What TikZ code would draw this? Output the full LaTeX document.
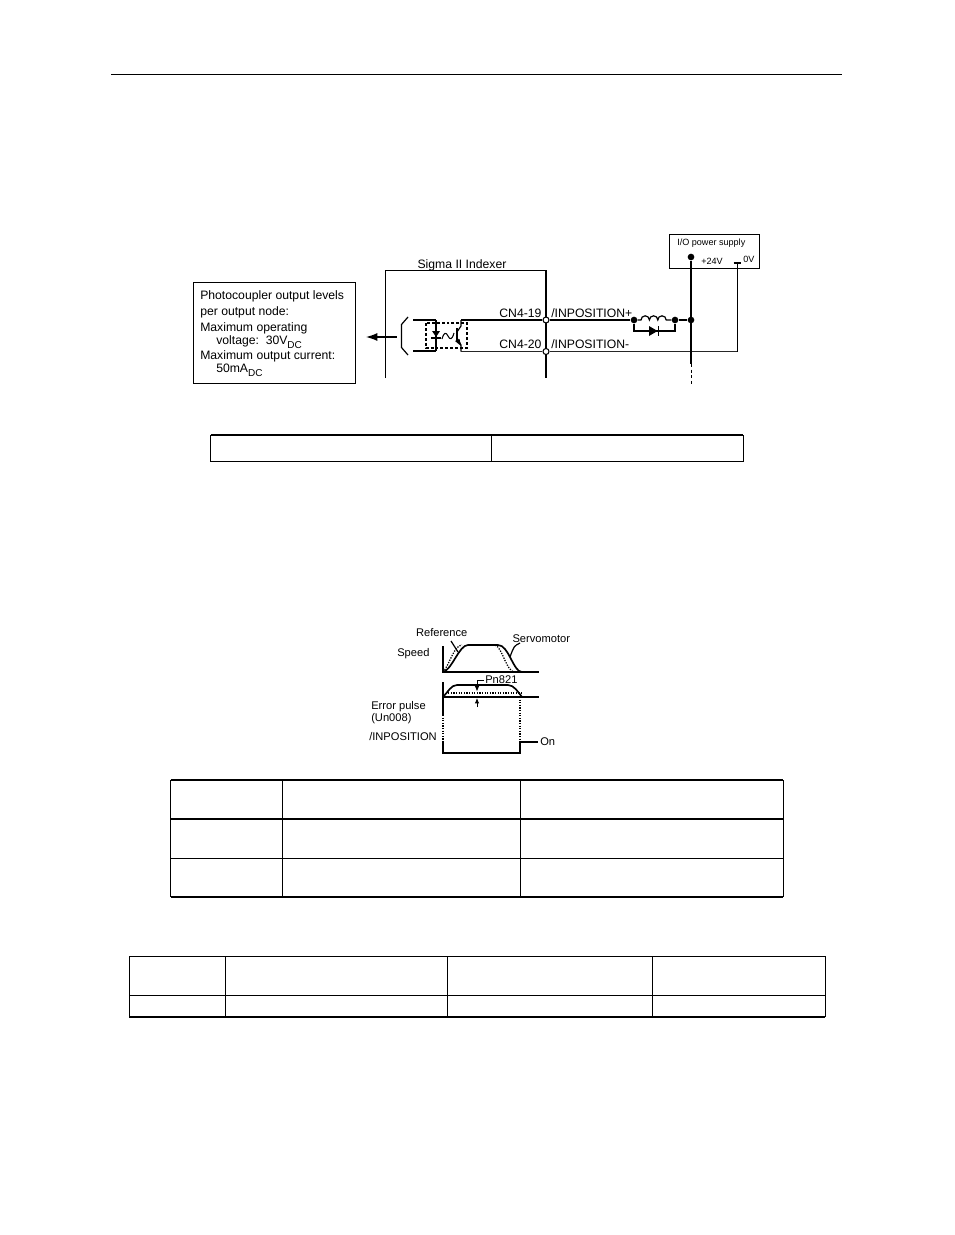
\documentclass[tikz,border=0pt]{standalone}
\usepackage{fontspec}
\setmainfont{Liberation Sans}
\usetikzlibrary{arrows,arrows.meta}

\def\dcsub{\raisebox{-3pt}{\fontsize{7.5}{7.5}\selectfont DC}}

\tikzset{
	wire/.style={line width=1.25pt},
	thinwire/.style={line width=0.9pt},
	dotwire/.style={line width=0.95pt,dash pattern=on 0.95pt off 1pt},
	tablerule/.style={line width=0.7pt},
	tableframe/.style={line width=1.3pt},
	lbl/.style={inner sep=0pt,anchor=base west,font=\fontsize{9.15}{9.15}\selectfont},
	plotlbl/.style={inner sep=0pt,anchor=base west,font=\fontsize{8.35}{8.35}\selectfont},
	smalllbl/.style={inner sep=0pt,anchor=base west,font=\fontsize{6.8}{6.8}\selectfont},
	dot/.style={circle,fill=black,inner sep=0pt,minimum size=5pt},
	tap/.style={circle,draw=black,fill=white,line width=0.8pt,inner sep=0pt,minimum size=4.5pt},
}

\begin{document}
\begin{tikzpicture}[>=latex,x=0.75pt,y=-0.75pt]

\useasboundingbox (0,0) rectangle (954,1235);

% header rule
\draw[line width=0.7pt] (111,74) -- (842,74);

% note box
\node[draw,thinwire,minimum width=121pt,minimum height=76pt,inner sep=0pt] (notebox) at (274.5,333) {};
\node[lbl] (noteA) at (200,299.7) {Photocoupler output levels};
\node[lbl] (noteB) at (200,315.2) {per output node:};
\node[lbl] (noteC) at (200,331.2) {Maximum operating};
\node[lbl] (noteD) at (216,344.2) {voltage:\ \ 30V\dcsub};
\node[lbl] (noteE) at (200,359.7) {Maximum output current:};
\node[lbl] (noteF) at (216,372.2) {50mA\dcsub};

% indexer frame
\coordinate (frameL) at (385.5,378);
\coordinate (frameTL) at (385.5,270.5);
\coordinate (frameTR) at (546,270.5);
\coordinate (frameR) at (546,378);
\draw[thinwire] (frameL) -- (frameTL) -- (frameTR) -- (frameR);
\node[lbl,anchor=base] (indexer) at (462,268) {Sigma II Indexer};

% arrow out of the indexer
\coordinate (arrowA) at (396.5,337);
\coordinate (arrowB) at (366,337);
\draw[-{Latex[length=8.5pt,width=6pt]},thinwire] (arrowA) -- (arrowB);

% bracket
\draw[thinwire] (408,317) -- (401.5,324.5) -- (401.5,347.5) -- (408,355);

% wires
\coordinate (upL) at (413,320);
\coordinate (upM) at (436,320);
\coordinate (loL) at (413,351);
\coordinate (loM) at (436,351);
\coordinate (upR) at (461,320);
\coordinate (loR) at (461,351.5);
\node[tap] (cnA) at (546,320) {};
\node[tap] (cnB) at (546,351.5) {};
\node[dot] (coilL) at (634,320) {};
\node[dot] (coilR) at (675,320) {};
\node[dot] (node24) at (691,320) {};
\draw[thinwire] (upL) -- (upM) (loL) -- (loM);
\draw[wire] (upR) -- (cnA) -- (coilL);
\draw[wire] (coilR) -- (node24);

% photocoupler
\draw[line width=0.8pt,dash pattern=on 2.2pt off 1.5pt] (426,323) rectangle (467,348);
\draw[thinwire] (436,320) -- (436,351);
\fill (432,331) -- (440,331) -- (436,337) -- cycle;
\draw[wire] (431,338) -- (441,338);
\draw[line width=0.8pt] (442,339) .. controls (444,332) and (446,332) .. (448,336)
	.. controls (450,340) and (452,340) .. (454,333);
\draw[wire] (457,328) -- (457,342);
\draw[thinwire] (461,320) -- (461,326) -- (457,332) (457,338) -- (461,345) -- (461,351.5);
\fill (461,346) -- (455,341) -- (459.5,339) -- cycle;

% coil and diode
\draw[thinwire] (coilL) -- (641,320) arc (180:360:4.2) arc (180:360:4.2) arc (180:360:4.2) -- (coilR);
\coordinate (diodeL) at (634,331);
\coordinate (diodeR) at (675,331);
\draw[wire] (coilL) -- (diodeL) -- (diodeR) -- (coilR);
\fill (649,326) -- (657.5,331) -- (649,336) -- cycle;
\draw[wire] (658.5,326) -- (658.5,336);

% power supply
\node[draw,thinwire,minimum width=68pt,minimum height=26pt,inner sep=0pt] (supply) at (714.5,251.5) {};
\node[smalllbl] (supplyname) at (677,245.5) {I/O power supply};
\node[dot] (plus) at (691,257) {};
\node[smalllbl] (plustxt) at (701,264) {+24V};
\node[smalllbl] (zerotxt) at (743,262.5) {0V};
\coordinate (zeroA) at (733.5,263);
\coordinate (zeroB) at (741,263);
\coordinate (zeroC) at (737.3,263);
\coordinate (zeroD) at (737.3,351.5);
\draw[thinwire] (zeroA) -- (zeroB);
\draw[thinwire] (zeroC) -- (zeroD);
\draw[wire,black!85] (loR) -- (cnB) -- (zeroD);
\coordinate (busEnd) at (691,364);
\coordinate (busTail) at (691,384);
\draw[thinwire] (plus) -- (busEnd);
\draw[line width=0.7pt,dash pattern=on 2.4pt off 1.8pt] (busEnd) -- (busTail);

% wire labels
\node[lbl,anchor=base east] (cnAtxt) at (541.7,317) {CN4-19};
\node[lbl,anchor=base east] (cnBtxt) at (541.7,348) {CN4-20};
\node[lbl] (posA) at (551,317) {/INPOSITION+};
\node[lbl] (posB) at (551,348) {/INPOSITION-};

% first table
\draw[tablerule] (210.5,435) rectangle (743,461);
\draw[tablerule] (491,435) -- (491,461);
\draw[tableframe] (210.5,435) -- (743,435);

% speed plot
\draw[thinwire] (443,646) -- (443,672) -- (539,672);
\draw[wire] (443,672) .. controls (452,670) and (459,645) .. (468,645) -- (498,645)
	.. controls (509,645) and (513,672) .. (522,672);
\draw[dotwire] (443,672) .. controls (449,666) and (454,645) .. (462,645)
	(495,645) .. controls (503,648) and (506,672) .. (515,672);
\coordinate (refA) at (451,641);
\coordinate (refB) at (458,652);
\coordinate (servoA) at (520,643);
\coordinate (servoB) at (510,657);
\draw[thinwire] (refA) -- (refB) (servoA) .. controls (514,646) .. (servoB);
\node[plotlbl,anchor=base] (reftxt) at (441.7,636) {Reference};
\node[plotlbl] (servotxt) at (512.3,642.7) {Servomotor};
\node[plotlbl] (speedtxt) at (397,656) {Speed};

% error pulse plot
\draw[thinwire] (443,682) -- (443,715);
\draw[wire] (443,697) .. controls (448,692) and (451,685) .. (457,685) -- (508,685)
	.. controls (514,685) and (518,692) .. (522,697);
\draw[wire] (443,697) -- (539,697);
\draw[dotwire] (443,693) -- (522,693);
\draw[dotwire] (443,715) -- (443,742);
\draw[dotwire] (520,697) -- (520,742);
\coordinate (pnA) at (484,680);
\coordinate (pnB) at (477,680);
\coordinate (pnC) at (477,691.5);
\coordinate (pnD) at (477,707);
\coordinate (pnE) at (477,698);
\draw[-{Latex[length=4pt,width=3.4pt]},line width=0.7pt] (pnA) -- (pnB) -- (pnC);
\draw[-{Latex[length=4pt,width=3.4pt]},line width=0.7pt] (pnD) -- (pnE);
\node[plotlbl] (pntxt) at (485,683.3) {Pn821};
\node[plotlbl] (errtxt) at (371,709.5) {Error pulse};
\node[plotlbl] (untxt) at (371,721.7) {(Un008)};
\node[plotlbl] (inpostxt) at (369,740) {/INPOSITION};

% INPOSITION signal
\coordinate (sigA) at (443,742);
\coordinate (sigB) at (443,753);
\coordinate (sigC) at (520,753);
\coordinate (sigD) at (520,742);
\coordinate (sigE) at (538,742);
\draw[wire] (sigA) -- (sigB) -- (sigC) -- (sigD) -- (sigE);
\node[plotlbl] (ontxt) at (540,745) {On};

% second table
\draw[tablerule] (170.5,858) -- (783,858);
\foreach \x in {170.5,282,520,783}{
	\draw[tablerule] (\x,780) -- (\x,897);
}
\foreach \y in {780,819,897}{
	\draw[tableframe] (170.5,\y) -- (783,\y);
}

% third table
\draw[tablerule] (129,995) -- (825,995);
\foreach \x in {129,225,447,652,825}{
	\draw[tablerule] (\x,956) -- (\x,1017);
}
\draw[tablerule] (129,956) -- (825,956);
\draw[tableframe] (129,1017) -- (825,1017);

\end{tikzpicture}
\end{document}
